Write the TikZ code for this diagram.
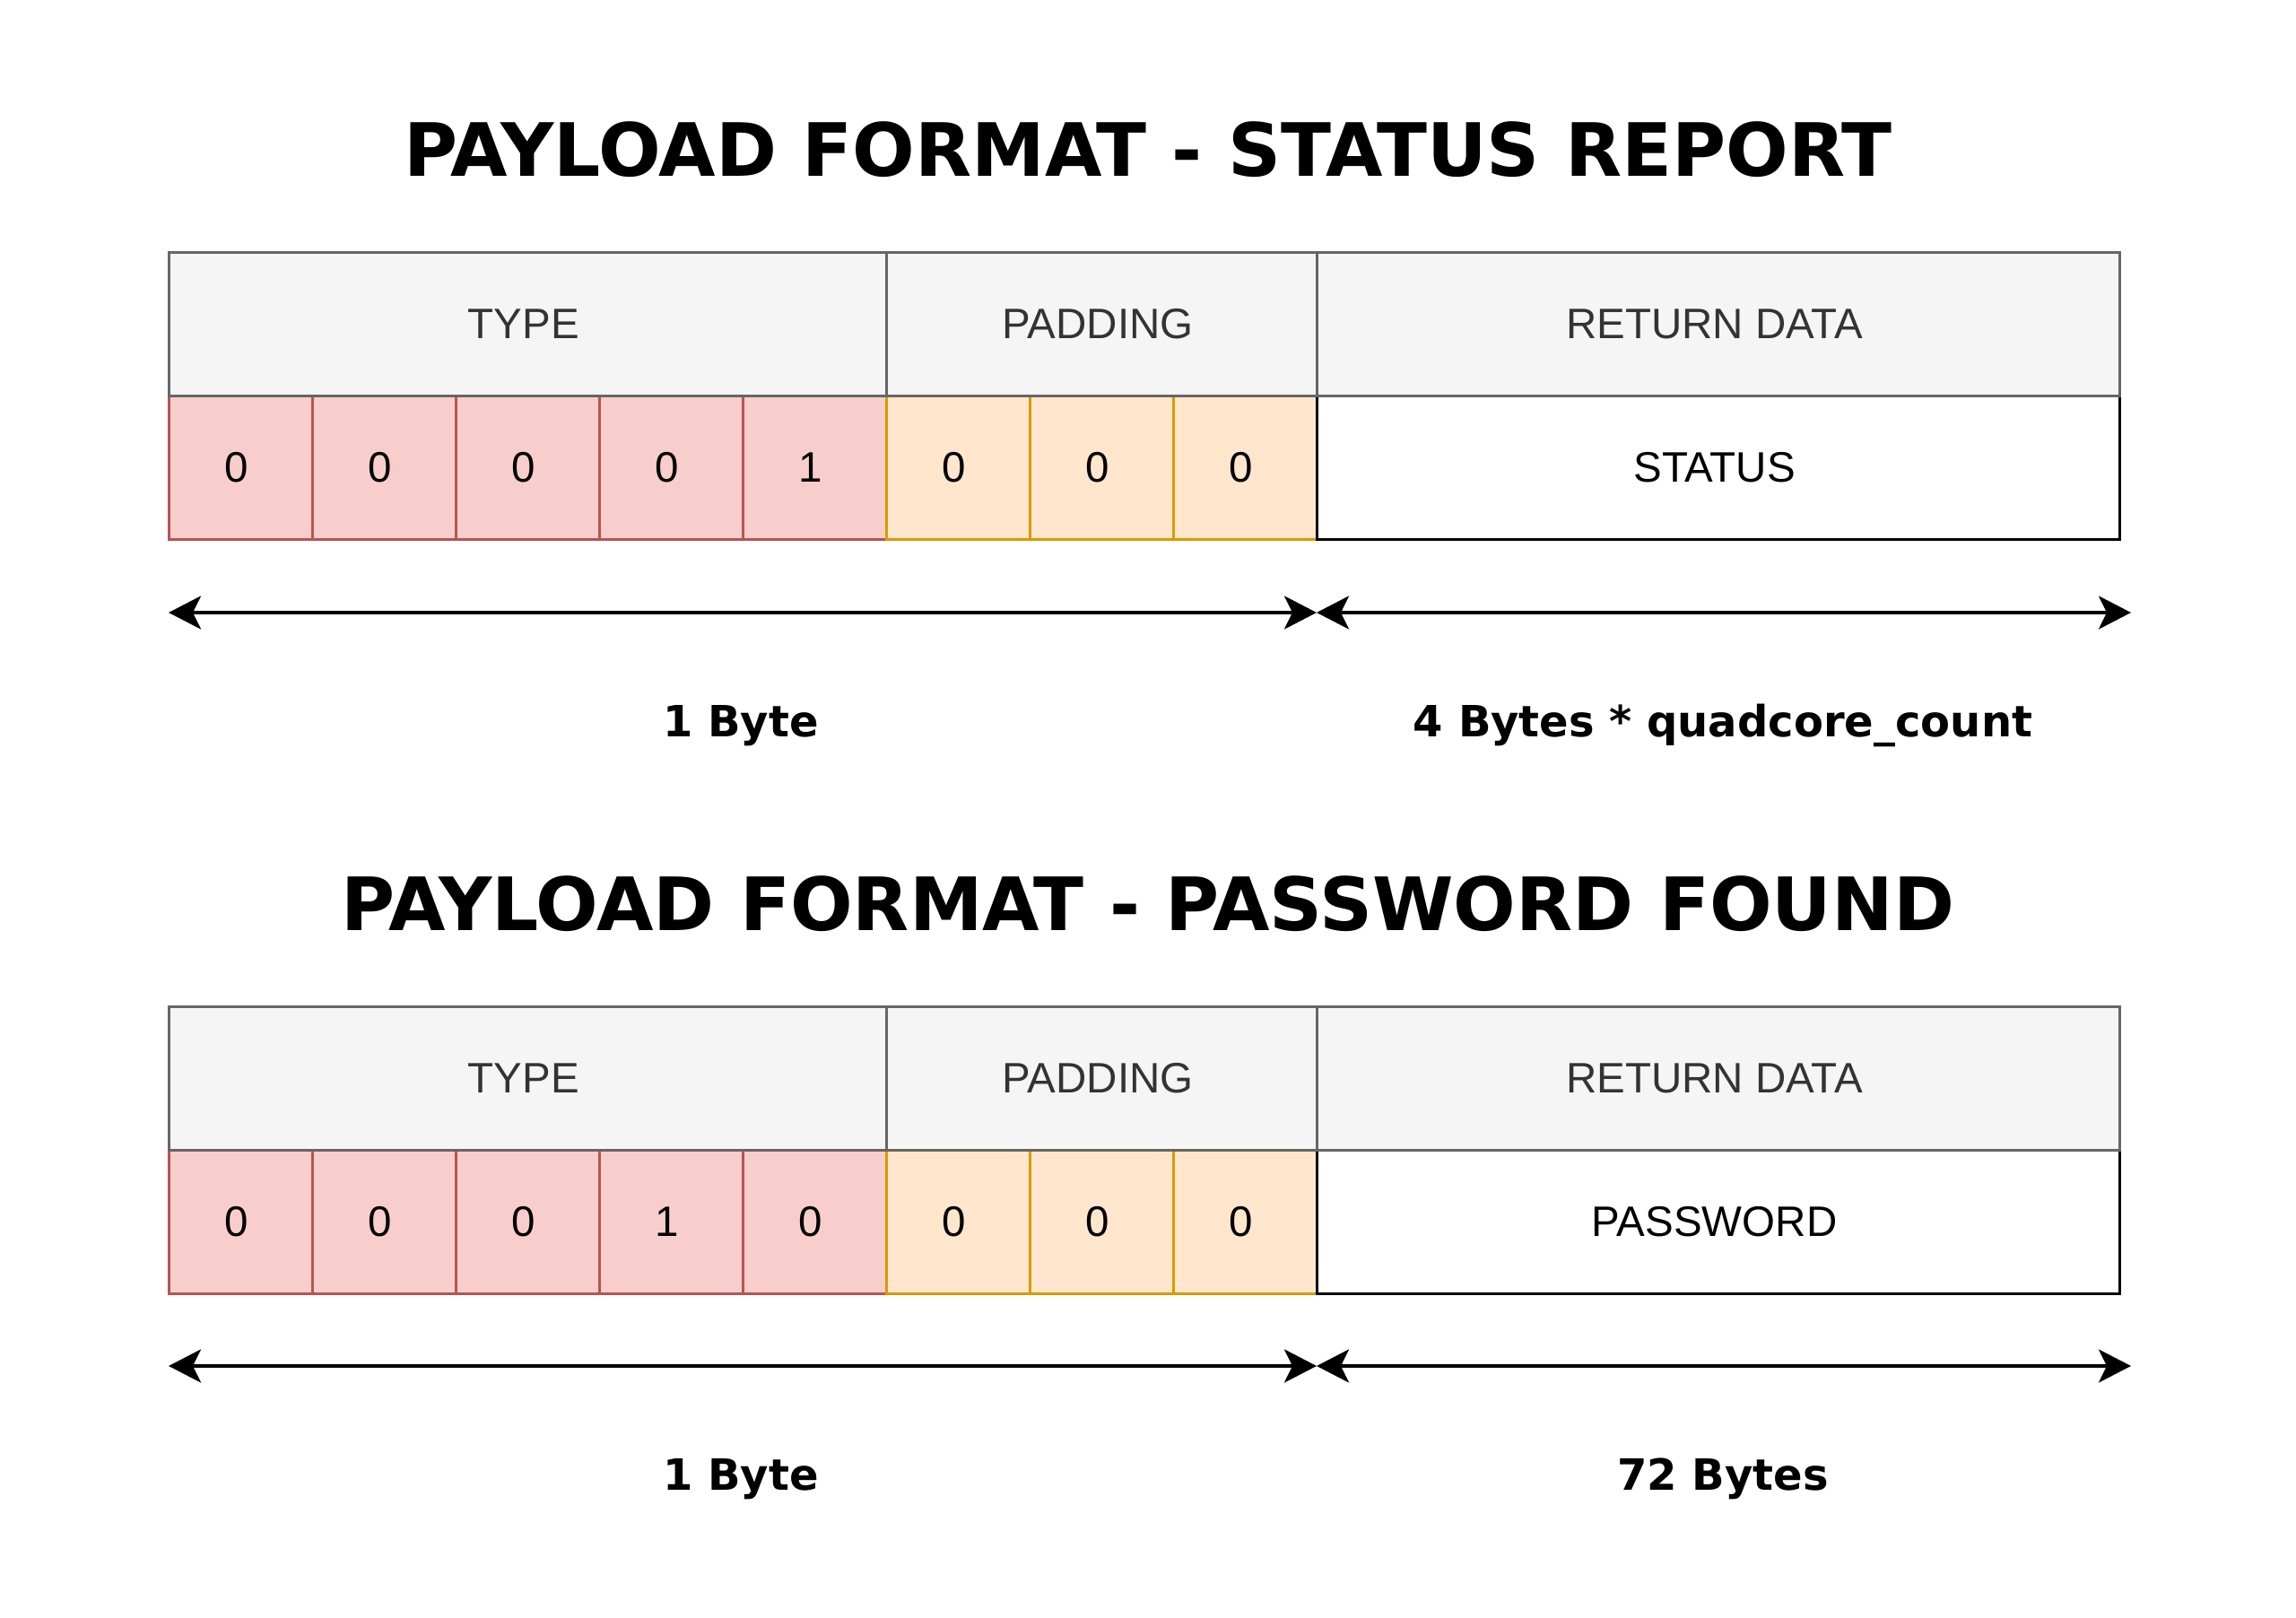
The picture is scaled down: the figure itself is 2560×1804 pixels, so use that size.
\documentclass[tikz,border=0pt]{standalone}
\usepackage{fontspec}
\setmainfont{Liberation Sans}
\newfontfamily\titlefont{DejaVu Sans}
\usetikzlibrary{arrows.meta}
\definecolor{hdrfill}{HTML}{F5F5F5}
\definecolor{hdrline}{HTML}{666666}
\definecolor{hdrtext}{HTML}{333333}
\definecolor{typefill}{HTML}{F8CECC}
\definecolor{typeline}{HTML}{B85450}
\definecolor{padfill}{HTML}{FFE6CC}
\definecolor{padline}{HTML}{D79B00}
\tikzset{
  cell/.style={draw, line width=3pt, inner sep=0pt, outer sep=0pt, anchor=north west,
    minimum height=160pt, font=\fontsize{47.5}{57}\selectfont,
    execute at begin node={\hspace*{-8pt}}},
  hdr/.style={cell, fill=hdrfill, draw=hdrline, text=hdrtext},
  typecell/.style={cell, fill=typefill, draw=typeline, minimum width=160pt},
  padcell/.style={cell, fill=padfill, draw=padline, minimum width=160pt},
  datacell/.style={cell, fill=white, draw=black, minimum width=895pt},
  titletext/.style={font=\titlefont\bfseries\fontsize{82}{98}\selectfont, anchor=base},
  sizelabel/.style={font=\titlefont\bfseries\fontsize{48}{58}\selectfont, anchor=base},
  dimarrow/.style={line width=3.5pt,
    {Stealth[length=36pt,width=37pt,inset=9pt]}-{Stealth[length=36pt,width=37pt,inset=9pt]}},
}
\begin{document}
\begin{tikzpicture}[x=1pt,y=-1pt]
\useasboundingbox (0,0) rectangle (2560,1804);
\fill[white] (0,0) rectangle (2560,1804);

% ---------- Status report ----------
\node[titletext] (title1) at (1280,196) {PAYLOAD FORMAT - STATUS REPORT};
\foreach \b [count=\i from 0] in {0,0,0,0,1}
  \node[typecell] (ta\i) at ({188+160*\i},441) {\b};
\foreach \b [count=\i from 0] in {0,0,0}
  \node[padcell] (pa\i) at ({988+160*\i},441) {\b};
\node[datacell] (da) at (1468,441) {STATUS};
\node[hdr, minimum width=800pt] (hta) at (188,281) {TYPE};
\node[hdr, minimum width=480pt] (hpa) at (988,281) {PADDING};
\node[hdr, minimum width=895pt] (hda) at (1468,281) {RETURN DATA};

\coordinate (a1l) at (188,683);
\coordinate (a1m) at (1468,683);
\coordinate (a1r) at (2376,683);
\draw[dimarrow] (a1l) -- (a1m);
\draw[dimarrow] (a1m) -- (a1r);
\node[sizelabel] (la1) at (826,821) {1 Byte};
\node[sizelabel] (la2) at (1921,821) {4 Bytes * quadcore\_count};

% ---------- Password found ----------
\node[titletext] (title2) at (1280,1037) {PAYLOAD FORMAT - PASSWORD FOUND};
\foreach \b [count=\i from 0] in {0,0,0,1,0}
  \node[typecell] (tb\i) at ({188+160*\i},1282) {\b};
\foreach \b [count=\i from 0] in {0,0,0}
  \node[padcell] (pb\i) at ({988+160*\i},1282) {\b};
\node[datacell] (db) at (1468,1282) {PASSWORD};
\node[hdr, minimum width=800pt] (htb) at (188,1122) {TYPE};
\node[hdr, minimum width=480pt] (hpb) at (988,1122) {PADDING};
\node[hdr, minimum width=895pt] (hdb) at (1468,1122) {RETURN DATA};

\coordinate (a2l) at (188,1523);
\coordinate (a2m) at (1468,1523);
\coordinate (a2r) at (2376,1523);
\draw[dimarrow] (a2l) -- (a2m);
\draw[dimarrow] (a2m) -- (a2r);
\node[sizelabel] (lb1) at (826,1661.5) {1 Byte};
\node[sizelabel] (lb2) at (1921,1661.5) {72 Bytes};
\end{tikzpicture}
\end{document}
